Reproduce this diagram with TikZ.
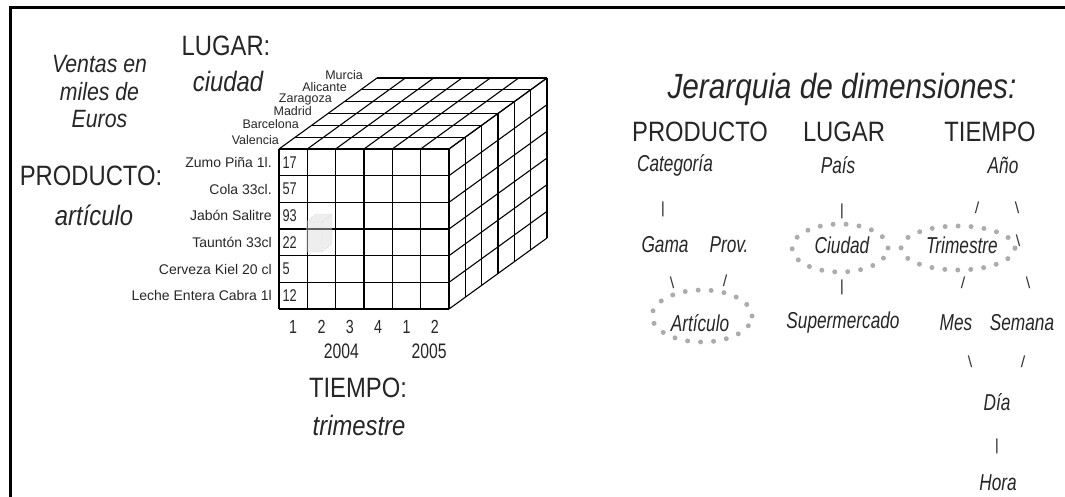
\documentclass[tikz,border=0pt]{standalone}
\usepackage{fontspec}
\setmainfont{Liberation Sans}[FakeStretch=0.85]
\newfontfamily\narrowfont{Liberation Sans}[FakeStretch=0.75]
\newfontfamily\plainfont{Liberation Sans}
\begin{document}
\begin{tikzpicture}[x=1pt, y=-1pt,
    every node/.style={inner sep=0pt, text=black!85},
    bigtxt/.style={font=\fontsize{28}{30}\selectfont},
    bigit/.style={font=\fontsize{28}{30}\selectfont\itshape},
    lvl/.style={font=\narrowfont\fontsize{23}{25}\selectfont\itshape},
    glyph/.style={font=\plainfont\fontsize{16}{16}\selectfont, text=black!80},
    rowlbl/.style={font=\plainfont\fontsize{14}{14}\selectfont, anchor=east},
    citylbl/.style={font=\plainfont\fontsize{12.5}{12.5}\selectfont, anchor=east},
    cellnum/.style={font=\narrowfont\fontsize{17}{17}\selectfont, anchor=west},
    collbl/.style={font=\narrowfont\fontsize{19}{19}\selectfont},
    yearlbl/.style={font=\narrowfont\fontsize{21}{21}\selectfont},
    dotring/.style={draw=gray!65, line width=5pt, line cap=round, dash pattern=on 0pt off 13pt},
    gridline/.style={line width=1.1pt},
    frontline/.style={line width=1.5pt}]
\useasboundingbox (0,0) rectangle (1065,497);

% marco
\draw[line width=3pt] (10.5,497) -- (10.5,7.5) -- (1065,7.5);

% ---- cubo de ventas ----
\node[font=\fontsize{25}{27.5}\selectfont\itshape, align=center] (ventas) at (99.5,92) {Ventas en\\miles de\\Euros};
\node[bigtxt] (lugar) at (226,46) {LUGAR:};
\node[bigit] (ciudad) at (228,82) {ciudad};
\node[bigtxt] (producto) at (91,176) {PRODUCTO:};
\node[bigit] (articulo) at (94,215) {artículo};
\node[bigtxt] (tiempo) at (358,388) {TIEMPO:};
\node[bigit] (trimestre) at (359,425) {trimestre};

\begin{scope}[shift={(279,149)}, x={(28.33pt,0pt)}, y={(0pt,-26.67pt)}, z={(16.33pt,11.83pt)}]
    % cara superior
    \foreach \k in {0,...,6} \draw[gridline] (0,0,\k) -- (6,0,\k);
    \foreach \i in {0,...,6} \draw[gridline] (\i,0,0) -- (\i,0,6);
    % cara lateral
    \foreach \k in {0,...,6} \draw[gridline] (6,0,\k) -- (6,6,\k);
    \foreach \j in {0,...,6} \draw[gridline] (6,\j,0) -- (6,\j,6);
    % cara frontal
    \foreach \i in {0,...,6} \draw[frontline] (\i,0,0) -- (\i,6,0);
    \foreach \j in {0,...,6} \draw[frontline] (0,\j,0) -- (6,\j,0);

    \foreach \p/\v [count=\j from 0] in {{Zumo Piña 1l.}/17, {Cola 33cl.}/57, {Jabón Salitre}/93,
            {Tauntón 33cl}/22, {Cerveza Kiel 20 cl}/5, {Leche Entera Cabra  1l}/12} {
        \node[rowlbl] (prod-\j) at (-0.25,\j+0.5,0) {\p};
        \node[cellnum] (val-\j) at (0.12,\j+0.5,0) {\v};
    }
    \foreach \t [count=\i from 0] in {1,2,3,4,1,2}
        \node[collbl] (trim-\i) at (\i+0.5,6.67,0) {\t};
    \node[yearlbl] (y2004) at (2.2,7.6,0) {2004};
    \node[yearlbl] (y2005) at (5.3,7.6,0) {2005};
\end{scope}

\foreach \c/\px/\py in {Valencia/279/140, Barcelona/299/124, Madrid/312/111,
        Zaragoza/332/99, Alicante/347/87, Murcia/363/75}
    \node[citylbl] (city-\c) at (\px,\py) {\c};

% celda resaltada
\filldraw[fill=gray!30, draw=gray!50, fill opacity=0.45, densely dotted]
    (306,222) -- (316,214) -- (332,214) -- (332,244) -- (322,252) -- (306,252) -- cycle;
\draw[gray!50, densely dotted] (306,222) -- (322,222) -- (332,214) (322,222) -- (322,252);

% ---- jerarquias ----
\node[font=\fontsize{35}{38}\selectfont\itshape] (jerarquia) at (842,89) {Jerarquia de dimensiones:};
\node[bigtxt] (h-prod) at (700,132) {PRODUCTO};
\node[bigtxt] (h-lugar) at (844,132) {LUGAR};
\node[bigtxt] (h-tiempo) at (990,132) {TIEMPO};

\node[lvl] (categoria) at (675,165) {Categoría};
\node[lvl] (pais) at (838,165) {País};
\node[lvl] (anio) at (1003,165) {Año};
\node[lvl] (gama) at (665,245) {Gama};
\node[lvl] (prov) at (729,245) {Prov.};
\node[lvl] (ciudad2) at (842,245) {Ciudad};
\node[lvl] (trim2) at (962,245) {Trimestre};
\node[lvl] (articulo2) at (700,323) {Artículo};
\node[lvl] (super) at (843,323) {Supermercado};
\node[lvl] (mes) at (956,323) {Mes};
\node[lvl] (semana) at (1022,323) {Semana};
\node[lvl] (dia) at (997,402) {Día};
\node[lvl] (hora) at (998,483) {Hora};

\node[glyph] (g-cat) at (663,209) {|};
\node[glyph] (g-pais) at (842,211) {|};
\node[glyph] (g-anio1) at (977,208) {/};
\node[glyph] (g-anio2) at (1017,208) {\textbackslash};
\node[glyph] (g-anio3) at (1018,241) {\textbackslash};
\node[glyph] (g-gama) at (672,283) {\textbackslash};
\node[glyph] (g-prov) at (725,281) {/};
\node[glyph] (g-ciudad) at (842,287) {|};
\node[glyph] (g-trim) at (963,283) {/};
\node[glyph] (g-sem1) at (1028,283) {\textbackslash};
\node[glyph] (g-mes) at (970,362) {\textbackslash};
\node[glyph] (g-sem2) at (1023,362) {/};
\node[glyph] (g-dia) at (997,446) {|};

\draw[dotring] (702,316) ellipse [x radius=50pt, y radius=26pt];
\draw[dotring] (840,248) ellipse [x radius=48pt, y radius=24pt];
\draw[dotring] (958,248) ellipse [x radius=57pt, y radius=22pt];
\end{tikzpicture}
\end{document}
